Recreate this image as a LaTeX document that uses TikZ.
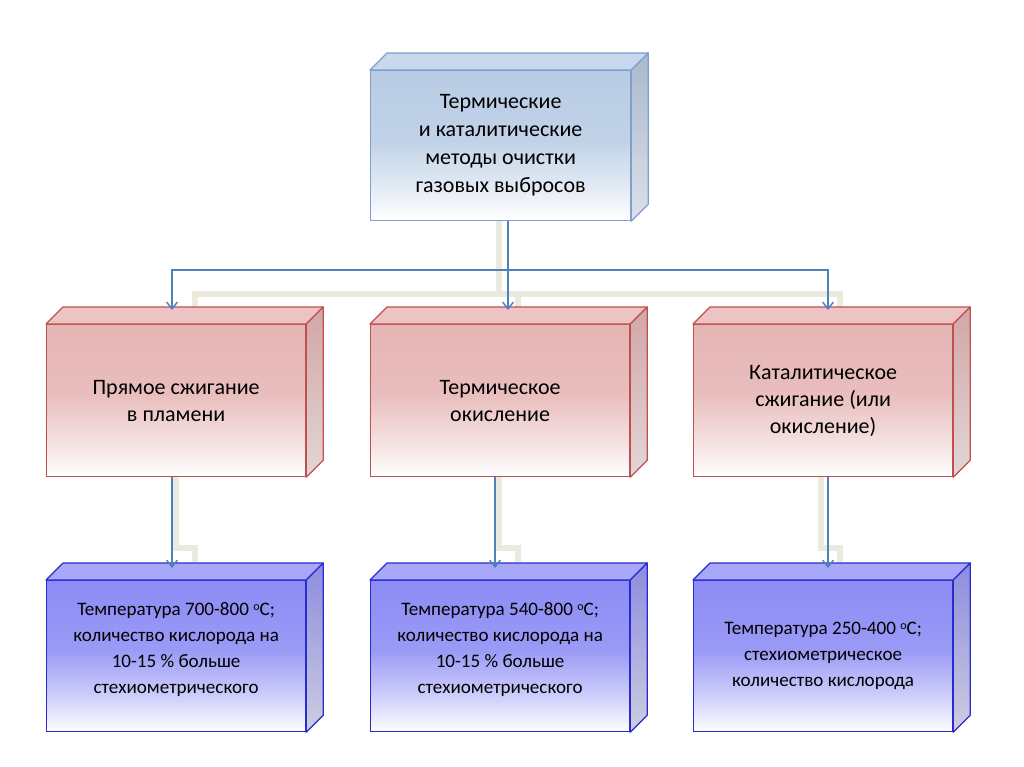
\documentclass[tikz,border=0pt]{standalone}
\usepackage{fontspec}
\setmainfont{Carlito}
\usetikzlibrary{arrows.meta}
\colorlet{fc}{white}
\pgfdeclareverticalshading[fc]{frontshade}{100bp}{color(0bp)=(white); color(25bp)=(white); color(36bp)=(fc!40!white); color(52bp)=(fc!88!white); color(75bp)=(fc); color(100bp)=(fc)}
\definecolor{tbfront}{HTML}{B8CCE4}
\definecolor{tbtop}{HTML}{C9D8EC}
\definecolor{tbside}{HTML}{A9B9CD}
\definecolor{tbsideb}{HTML}{DCE1E8}
\definecolor{tbline}{HTML}{7F9FD0}
\definecolor{rbfront}{HTML}{E6B5B5}
\definecolor{rbtop}{HTML}{EDC4C4}
\definecolor{rbside}{HTML}{D3A6A6}
\definecolor{rbsideb}{HTML}{E2D6D6}
\definecolor{rbline}{HTML}{C0504D}
\definecolor{bbfront}{HTML}{8C8CF5}
\definecolor{bbtop}{HTML}{A8A8FA}
\definecolor{bbside}{HTML}{8C8CDE}
\definecolor{bbsideb}{HTML}{CDCDE0}
\definecolor{bbline}{HTML}{2A2AD2}
\definecolor{connblue}{HTML}{4F81BD}
\definecolor{beige}{HTML}{ECE9DF}
\newcommand\cuboid[8]{%
  \colorlet{fc}{#6front}%
  \node[frontface, #7, draw=#6line, minimum width=#4*0.75pt, minimum height=#5*0.75pt, anchor=north west] (#1) at (#2,#3) {#8};
  \draw[facebox, draw=#6line, fill=#6top] (#1.north west) -- ++(17,-17) -- ([shift={(17,-17)}]#1.north east) -- (#1.north east) -- cycle;
  \draw[facebox, draw=#6line, top color=#6side, bottom color=#6sideb] (#1.north east) -- ++(17,-17) -- ([shift={(17,-17)}]#1.south east) -- (#1.south east) -- cycle;
}
\newcommand\degsup{\raisebox{0.55ex}{\fontsize{9}{9}\selectfont o}}
\tikzset{
  frontface/.style={shade, shading=frontshade, line width=0.9pt, align=center, inner sep=0pt, text=black},
  facebox/.style={line width=0.9pt, line join=round},
  toptext/.style={font=\fontsize{16.5}{21}\selectfont},
  redtext/.style={font=\fontsize{16.5}{20.25}\selectfont},
  bluetext/.style={font=\fontsize{14.3}{19.5}\selectfont},
  conn/.style={draw=connblue, line width=1.2pt},
  arr/.style={-{Straight Barb[length=5pt,width=8pt,line width=1.1pt]}},
  shadowline/.style={draw=beige, line width=4.5pt, line join=miter}
}
\begin{document}
\begin{tikzpicture}[x=0.75pt, y=-0.75pt]
\useasboundingbox[fill=white] (0,0) rectangle (1024,767);
% anchor coordinates for connectors
\coordinate (bus) at (508,270);
\coordinate (a1) at (172,310);
\coordinate (a2) at (508,310);
\coordinate (a3) at (828,310);
\coordinate (c1) at (172,568);
\coordinate (c2) at (495,568);
\coordinate (c3) at (828,568);
% beige shadow connectors
\draw[shadowline] (499,220) -- (499,294);
\draw[shadowline] (195,307) -- (195,294) -- (840,294) -- (840,307);
\draw[shadowline] (518,294) -- (518,307);
\draw[shadowline] (176,476) -- (176,548) -- (195,548) -- (195,562);
\draw[shadowline] (499,476) -- (499,548) -- (518,548) -- (518,562);
\draw[shadowline] (821,476) -- (821,548) -- (840,548) -- (840,562);
% boxes
\cuboid{top}{370}{70}{260}{150}{tb}{toptext}{Термические\\и каталитические\\методы очистки\\газовых выбросов}
\cuboid{r1}{46}{324}{259}{152}{rb}{redtext}{Прямое сжигание\\в пламени}
\cuboid{r2}{370}{324}{259}{152}{rb}{redtext}{Термическое\\окисление}
\cuboid{r3}{693}{324}{259}{152}{rb}{redtext}{Каталитическое\\сжигание (или\\окисление)}
\cuboid{b1}{46}{580}{259}{151}{bb}{bluetext}{Температура 700-800 \degsup C;\\количество кислорода на\\10-15 \% больше\\стехиометрического\\[-7.5pt]\mbox{}}
\cuboid{b2}{370}{580}{259}{151}{bb}{bluetext}{Температура 540-800 \degsup C;\\количество кислорода на\\10-15 \% больше\\стехиометрического\\[-7.5pt]\mbox{}}
\cuboid{b3}{693}{580}{259}{151}{bb}{bluetext}{Температура 250-400 \degsup C;\\стехиометрическое\\количество кислорода}
% blue connectors
\draw[conn] (top.south -| bus) -- (bus);
\draw[conn, arr] (bus) -| (a1);
\draw[conn, arr] (bus) -| (a3);
\draw[conn, arr] (bus) -- (a2);
\draw[conn, arr] (r1.south -| c1) -- (c1);
\draw[conn, arr] (r2.south -| c2) -- (c2);
\draw[conn, arr] (r3.south -| c3) -- (c3);
\end{tikzpicture}
\end{document}
